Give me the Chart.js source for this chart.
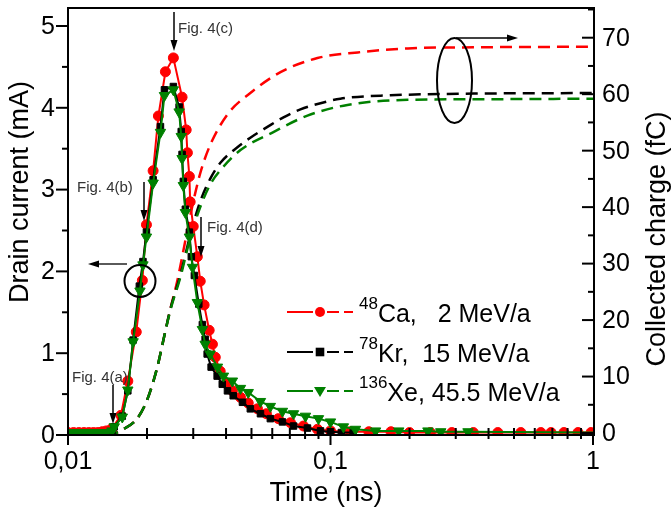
<!DOCTYPE html>
<html>
<head>
<meta charset="utf-8">
<script src="https://cdn.jsdelivr.net/npm/chart.js@4.4.1/dist/chart.umd.min.js"></script>
<style>
  html, body { margin: 0; padding: 0; background: #fff; }
  #wrap { width: 671px; height: 508px; }
</style>
</head>
<body>
<div id="wrap"><canvas id="chart" width="671" height="508"></canvas></div>
<script>
// drain current, 48Ca 2 MeV/a
const tCa = [0.0100, 0.0105, 0.0110, 0.0115, 0.0120, 0.0125, 0.0130, 0.0135, 0.0140, 0.0147,
  0.0159, 0.0169, 0.0182, 0.0192, 0.0199, 0.0211, 0.0221, 0.0235, 0.0252, 0.0272,
  0.0282, 0.0285, 0.0290, 0.0292, 0.0300, 0.0311, 0.0319, 0.0330, 0.0345, 0.0355,
  0.0364, 0.0380, 0.0401, 0.0423, 0.0454, 0.0486, 0.0527, 0.0570, 0.0633, 0.0704,
  0.0789, 0.0892, 0.100, 0.119, 0.140, 0.170, 0.200, 0.240, 0.290, 0.350,
  0.434, 0.531, 0.633, 0.692, 0.775, 0.877, 0.983];
const iCa = [0.03, 0.03, 0.03, 0.03, 0.03, 0.03, 0.03, 0.04, 0.05, 0.08,
  0.24, 0.66, 1.26, 1.89, 2.57, 3.23, 3.90, 4.44, 4.61, 4.13,
  3.73, 3.45, 3.16, 2.85, 2.55, 2.18, 1.88, 1.59, 1.28, 1.11,
  0.95, 0.78, 0.63, 0.54, 0.46, 0.39, 0.32, 0.26, 0.20, 0.15,
  0.11, 0.07, 0.05, 0.04, 0.04, 0.04, 0.03, 0.03, 0.03, 0.03,
  0.03, 0.03, 0.03, 0.03, 0.03, 0.03, 0.03];

// drain current, 78Kr 15 MeV/a
const tKr = [0.0100, 0.0105, 0.0110, 0.0115, 0.0120, 0.0125, 0.0130, 0.0135, 0.0140,
  0.0147, 0.0150, 0.0161, 0.0169, 0.0177, 0.0187, 0.0193, 0.0199, 0.0211, 0.0225,
  0.0233, 0.0252, 0.0265, 0.0270, 0.0272, 0.0275, 0.0280, 0.0290, 0.0295, 0.0303,
  0.0315, 0.0325, 0.0333, 0.0339, 0.0351, 0.0370, 0.0387, 0.0405, 0.0426, 0.0462,
  0.0495, 0.0541, 0.0590, 0.0656, 0.0723, 0.0817, 0.0916, 0.100, 0.110, 0.122];
const iKr = [0.02, 0.02, 0.02, 0.02, 0.02, 0.02, 0.02, 0.02, 0.02,
  0.04, 0.10, 0.23, 0.54, 1.16, 1.82, 2.12, 2.48, 3.12, 3.77,
  4.22, 4.26, 4.01, 3.71, 3.43, 3.10, 2.76, 2.48, 2.18, 1.95,
  1.60, 1.35, 1.17, 0.99, 0.83, 0.72, 0.62, 0.54, 0.48, 0.40,
  0.32, 0.26, 0.20, 0.16, 0.11, 0.085, 0.05, 0.04, 0.03, 0.03];

// drain current, 136Xe 45.5 MeV/a
const tXe = [0.0100, 0.0105, 0.0110, 0.0115, 0.0120, 0.0125, 0.0130, 0.0135, 0.0140,
  0.0147, 0.0150, 0.0161, 0.0169, 0.0177, 0.0188, 0.0193, 0.0199, 0.0211, 0.0225,
  0.0233, 0.0252, 0.0265, 0.0270, 0.0272, 0.0275, 0.0280, 0.0290, 0.0298, 0.0311,
  0.0325, 0.0333, 0.0348, 0.0371, 0.0391, 0.0423, 0.0454, 0.0486, 0.0541, 0.0590,
  0.0656, 0.0723, 0.0803, 0.0900, 0.100, 0.112, 0.1245, 0.1485, 0.182, 0.235,
  0.263, 0.334, 1.0];
const iXe = [0.03, 0.03, 0.03, 0.03, 0.03, 0.03, 0.03, 0.03, 0.03,
  0.05, 0.10, 0.22, 0.55, 1.14, 1.76, 2.08, 2.42, 3.08, 3.70,
  4.15, 4.22, 3.95, 3.65, 3.38, 3.05, 2.72, 2.42, 2.05, 1.62,
  1.29, 1.11, 0.99, 0.83, 0.72, 0.66, 0.57, 0.52, 0.41, 0.35,
  0.29, 0.26, 0.23, 0.20, 0.16, 0.10, 0.07, 0.05, 0.05, 0.05,
  0.04, 0.04, 0.03];

// collected charge (fC)
const tQCa = [0.0100, 0.0150, 0.0161, 0.0183, 0.0200, 0.0219, 0.0231, 0.0245, 0.0261, 0.0277,
  0.0297, 0.0319, 0.0348, 0.0408, 0.0495, 0.0645, 0.0892, 0.127, 0.197, 0.351, 1.0];
const qCa = [0, 0, 0.6, 2.5, 5.8, 11.7, 16.5, 21.8, 27, 33,
  40, 46, 51, 56.6, 60.2, 63.9, 66.4, 67.4, 68.1, 68.3, 68.4];
const tQKr = [0.0100, 0.0150, 0.0161, 0.0183, 0.0200, 0.0219, 0.0231, 0.0245, 0.0268, 0.0292,
  0.0319, 0.0348, 0.0380, 0.0442, 0.0495, 0.0575, 0.0662, 0.0768, 0.0916, 0.109,
  0.169, 0.351, 1.0];
const qKr = [0, 0, 0.6, 2.5, 5.8, 11.7, 16.5, 21.8, 28, 35,
  41, 45, 47.8, 50.6, 52.3, 54.2, 55.9, 57.3, 58.4, 59.2,
  59.8, 60.1, 60.2];
const tQXe = [0.0100, 0.0150, 0.0161, 0.0183, 0.0200, 0.0219, 0.0231, 0.0245, 0.0268, 0.0292,
  0.0319, 0.0348, 0.0380, 0.0454, 0.0606, 0.0817, 0.116, 0.197, 0.351, 1.0];
const qXe = [0, 0, 0.6, 2.5, 5.8, 11.7, 16.5, 21.6, 27.6, 34.5,
  40, 44, 46.5, 50.1, 53.3, 56.2, 58.1, 59.0, 59.1, 59.2];

const xMajor = [0.01, 0.1, 1];
const xLabels = ['0,01', '0,1', '1'];
const leftTicks = [0, 1, 2, 3, 4, 5];
const rightTicks = [0, 10, 20, 30, 40, 50, 60, 70];

const RED = '#ff0000', BLACK = '#000000', GREEN = '#008000';
const FONT = '"Liberation Sans", Arial, sans-serif';

function pts(t, v) {
    return t.map((x, i) => ({ x: x, y: v[i] }));
}

function currentSet(t, v, color, style, r, order) {
    return {
        data: pts(t, v),
        yAxisID: 'y',
        borderColor: color,
        backgroundColor: color,
        borderWidth: 2,
        pointStyle: style,
        pointRotation: style === 'triangle' ? 180 : 0,
        pointRadius: (c) => (c.dataIndex === t.length - 1 && t[t.length - 1] >= 1 ? 0 : r),
        pointBorderWidth: 1,
        order: order
    };
}

function chargeSet(t, v, color, order) {
    return {
        data: pts(t, v),
        yAxisID: 'y2',
        borderColor: color,
        borderWidth: 2.5,
        borderDash: [12, 7],
        pointRadius: 0,
        cubicInterpolationMode: 'monotone',
        order: order
    };
}

const datasets = [
    currentSet(tXe, iXe, GREEN, 'triangle', 6, 1),
    currentSet(tKr, iKr, BLACK, 'rect', 4.6, 2),
    currentSet(tCa, iCa, RED, 'circle', 5, 3),
    chargeSet(tQXe, qXe, GREEN, 4),
    chargeSet(tQKr, qKr, BLACK, 5),
    chargeSet(tQCa, qCa, RED, 6)
];

function line(ctx, x1, y1, x2, y2) {
    ctx.beginPath();
    ctx.moveTo(x1, y1);
    ctx.lineTo(x2, y2);
    ctx.stroke();
}

function arrow(ctx, x1, y1, x2, y2) {
    const a = Math.atan2(y2 - y1, x2 - x1);
    const len = 11, w = 3.5;
    line(ctx, x1, y1, x2 - Math.cos(a) * len * 0.8, y2 - Math.sin(a) * len * 0.8);
    ctx.beginPath();
    ctx.moveTo(x2, y2);
    ctx.lineTo(x2 - Math.cos(a) * len - Math.sin(a) * w, y2 - Math.sin(a) * len + Math.cos(a) * w);
    ctx.lineTo(x2 - Math.cos(a) * len + Math.sin(a) * w, y2 - Math.sin(a) * len - Math.cos(a) * w);
    ctx.closePath();
    ctx.fill();
}

function marker(ctx, style, x, y, color) {
    ctx.fillStyle = color;
    ctx.beginPath();
    if (style === 'circle') {
        ctx.arc(x, y, 5, 0, Math.PI * 2);
    } else if (style === 'rect') {
        ctx.rect(x - 4.3, y - 4.3, 8.6, 8.6);
    } else {
        ctx.moveTo(x - 6, y - 4);
        ctx.lineTo(x + 6, y - 4);
        ctx.lineTo(x, y + 6);
        ctx.closePath();
    }
    ctx.fill();
}

const decor = {
    id: 'decor',
    afterDraw(chart) {
        const { ctx, chartArea: a, scales } = chart;
        const sx = scales.x, sy = scales.y, sy2 = scales.y2;
        ctx.save();
        ctx.strokeStyle = '#000';
        ctx.fillStyle = '#000';
        ctx.lineWidth = 2;
        ctx.strokeRect(a.left, a.top, a.right - a.left + 1, a.bottom - a.top);

        // left axis
        ctx.font = '25px ' + FONT;
        ctx.textAlign = 'right';
        ctx.textBaseline = 'middle';
        leftTicks.forEach(v => {
            const p = sy.getPixelForValue(v);
            line(ctx, a.left - 12, p, a.left, p);
            ctx.fillText(String(v), a.left - 13, p + 1);
            if (v < 5) {
                const m = sy.getPixelForValue(v + 0.5);
                line(ctx, a.left - 6, m, a.left, m);
            }
        });

        // right axis (ticks inside)
        ctx.textAlign = 'left';
        const rx = a.right + 1;
        rightTicks.forEach(v => {
            const p = sy2.getPixelForValue(v);
            line(ctx, rx - 12, p, rx, p);
            ctx.fillText(String(v), rx + 8, p + 1);
            const m = sy2.getPixelForValue(v + 5);
            if (v + 5 <= 75) line(ctx, rx - 6, m, rx, m);
        });

        // x axis
        ctx.textAlign = 'center';
        xMajor.forEach((v, i) => {
            const p = sx.getPixelForValue(v);
            line(ctx, p, a.bottom, p, a.bottom + 10);
            ctx.fillText(xLabels[i], p, a.bottom + 27);
            if (v < 1) {
                for (let k = 2; k <= 9; k++) {
                    const m = sx.getPixelForValue(v * k);
                    line(ctx, m, a.bottom - 7, m, a.bottom + 4);
                }
            }
        });

        // axis titles
        ctx.font = '27px ' + FONT;
        ctx.fillText('Time (ns)', 326, 494);
        ctx.save();
        ctx.translate(21, 192);
        ctx.rotate(-Math.PI / 2);
        ctx.fillText('Drain current (mA)', 0, 0);
        ctx.restore();
        ctx.save();
        ctx.translate(658, 239);
        ctx.rotate(-Math.PI / 2);
        ctx.fillText('Collected charge (fC)', 0, 0);
        ctx.restore();

        // legend
        const rows = [
            { c: RED, s: 'circle', sup: '48', txt: 'Ca,   2 MeV/a', y: 312 },
            { c: BLACK, s: 'rect', sup: '78', txt: 'Kr,  15 MeV/a', y: 352 },
            { c: GREEN, s: 'triangle', sup: '136', txt: 'Xe, 45.5 MeV/a', y: 391 }
        ];
        rows.forEach(r => {
            ctx.strokeStyle = r.c;
            ctx.lineWidth = 2;
            line(ctx, 287, r.y, 313, r.y);
            line(ctx, 327, r.y, 339, r.y);
            line(ctx, 344, r.y, 353, r.y);
            marker(ctx, r.s, 320, r.y, r.c);
            ctx.fillStyle = '#000';
            ctx.textAlign = 'left';
            ctx.textBaseline = 'alphabetic';
            ctx.font = '17px ' + FONT;
            ctx.fillText(r.sup, 359, r.y - 3);
            const w = ctx.measureText(r.sup).width;
            ctx.font = '25px ' + FONT;
            ctx.fillText(r.txt, 359 + w, r.y + 10);
        });

        // annotations
        ctx.strokeStyle = '#000';
        ctx.fillStyle = '#000';
        ctx.lineWidth = 1.5;
        arrow(ctx, 174, 12, 174, 51);
        arrow(ctx, 144, 182, 144, 221);
        arrow(ctx, 201, 217, 201, 257);
        arrow(ctx, 113, 385, 113, 424);
        ctx.lineWidth = 1.3;
        arrow(ctx, 127, 264, 88, 264);
        arrow(ctx, 456, 38, 518, 38);
        ctx.lineWidth = 2;
        ctx.beginPath();
        ctx.ellipse(140, 281, 15.5, 16, 0, 0, Math.PI * 2);
        ctx.stroke();
        ctx.beginPath();
        ctx.ellipse(454.5, 80.5, 17.5, 42.5, 0, 0, Math.PI * 2);
        ctx.stroke();

        ctx.fillStyle = '#333';
        ctx.font = '15px ' + FONT;
        ctx.textAlign = 'left';
        ctx.textBaseline = 'middle';
        ctx.fillText('Fig. 4(c)', 178, 29);
        ctx.fillText('Fig. 4(b)', 77, 188);
        ctx.fillText('Fig. 4(d)', 207, 228);
        ctx.fillText('Fig. 4(a)', 72, 378);
        ctx.restore();
    }
};

new Chart(document.getElementById('chart'), {
    type: 'line',
    data: { datasets: datasets },
    options: {
        responsive: false,
        animation: false,
        layout: { padding: { left: 68, right: 78, top: 8, bottom: 73 } },
        plugins: {
            legend: { display: false },
            tooltip: { enabled: false }
        },
        scales: {
            x: { type: 'logarithmic', min: 0.01, max: 1, display: false },
            y: { type: 'linear', min: 0, max: 5.22, display: false },
            y2: { type: 'linear', position: 'right', min: -0.35, max: 75.26, display: false }
        }
    },
    plugins: [decor]
});
</script>
</body>
</html>
